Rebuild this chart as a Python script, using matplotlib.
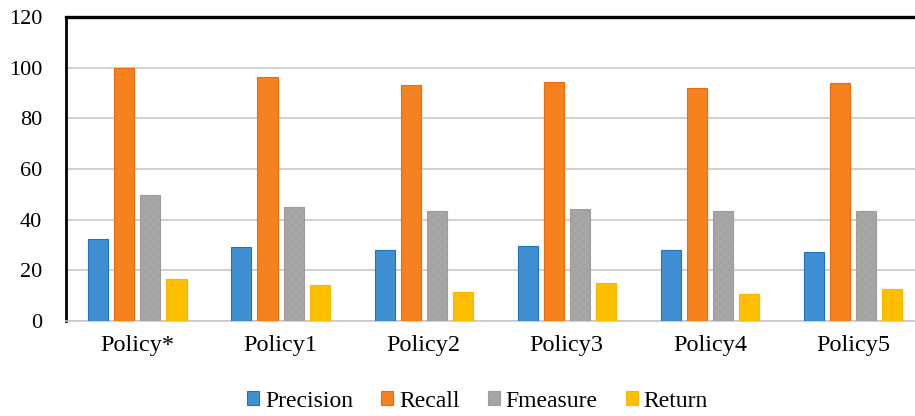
import matplotlib.pyplot as plt
import numpy as np

plt.rcParams["font.family"] = ["Liberation Serif", "DejaVu Serif"]
plt.rcParams["hatch.linewidth"] = 0.3

policies = ["Policy*", "Policy1", "Policy2", "Policy3", "Policy4", "Policy5"]
precision = [32.4, 29.2, 28.1, 29.7, 28.1, 27.2]
recall = [100.0, 96.4, 93.3, 94.4, 91.9, 94.1]
fmeasure = [49.7, 44.9, 43.4, 44.0, 43.4, 43.4]
returns = [16.6, 14.0, 11.5, 15.0, 10.4, 12.5]

series = [
    ("Precision", precision, "#3F8FD2", "#1B74C4", None),
    ("Recall", recall, "#F5811F", "#EE6A0C", None),
    ("Fmeasure", fmeasure, "#A7A7A7", "#9C9C9C", "xxxx"),
    ("Return", returns, "#FFBE00", "#FFB400", None),
]

fig = plt.figure(figsize=(9.15, 4.16), dpi=100)
ax = fig.add_axes([0.072, 0.229, 0.928, 0.730])

x = np.arange(len(policies))
width = 0.14
step = 0.182
for i, (name, vals, color, edge, hatch) in enumerate(series):
    offs = (i - 1.5) * step
    bars = ax.bar(x + offs, vals, width, color=color, edgecolor=edge,
                  linewidth=0.8, label=name, zorder=3)
    if hatch:
        for b in bars:
            b.set_hatch(hatch)

ax.set_xlim(-0.5, 5.434)
ax.set_ylim(0, 120)
ax.set_yticks(range(0, 121, 20))
ax.set_xticks(x)
ax.set_xticklabels(policies, fontsize=17.5)
ax.tick_params(axis="y", labelsize=16, length=0, pad=17)
ax.tick_params(axis="x", length=0, pad=10)
ax.yaxis.grid(True, color="#C8C8C8", linewidth=1.2, zorder=0)
ax.set_axisbelow(True)

ax.spines["left"].set_linewidth(2.0)
ax.spines["top"].set_linewidth(2.4)
ax.spines["right"].set_visible(False)
ax.spines["bottom"].set_color("#C8C8C8")
ax.spines["bottom"].set_linewidth(1.2)

fig.legend(loc="center", bbox_to_anchor=(0.522, 0.036), ncol=4, frameon=False,
           fontsize=17, handlelength=0.5, handleheight=0.5, handletextpad=0.25,
           columnspacing=1.2)

fig.savefig("out.png", dpi=100)
